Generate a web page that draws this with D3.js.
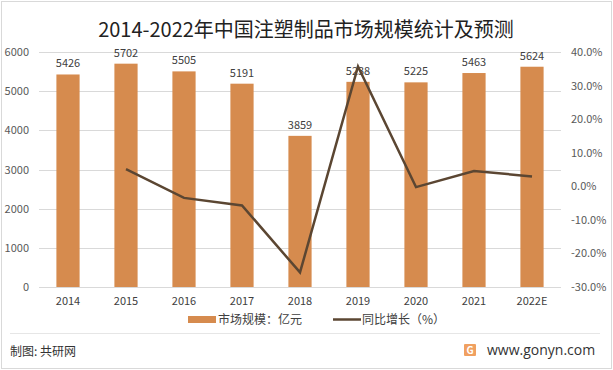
<!DOCTYPE html>
<html><head><meta charset="utf-8">
<script src="https://cdn.jsdelivr.net/npm/d3@7/dist/d3.min.js"></script>
<style>body{margin:0;background:#fff}svg{display:block;font-family:"Noto Sans CJK SC","Noto Sans",sans-serif}</style>
</head><body><svg id="c" width="613" height="370"></svg>
<script>
const categories=["2014","2015","2016","2017","2018","2019","2020","2021","2022E"];
const marketSize=[5426,5702,5505,5191,3859,5238,5225,5463,5624];
const growth=[null,5.1,-3.45,-5.7,-25.66,35.7,-0.25,4.56,2.95];
const leftTicks=[0,1000,2000,3000,4000,5000,6000];
const rightTicks=[-30,-20,-10,0,10,20,30,40];

const svg=d3.select("#c");
svg.append("rect").attr("x",1.5).attr("y",1.5).attr("width",610).attr("height",367).attr("fill","#fff").attr("stroke","#d9d9d9");
const L=39,R=561,T=52,B=287;
const x=d3.scaleBand().domain(categories).range([L,R]).paddingInner(0.6).paddingOuter(0.3);
const yL=d3.scaleLinear().domain([0,6000]).range([B,T]);
const yR=d3.scaleLinear().domain([-30,40]).range([B,T]);

svg.append("text").attr("x",306).attr("y",37).attr("text-anchor","middle").attr("font-size",20).attr("fill","#222").text("2014-2022年中国注塑制品市场规模统计及预测");

const grid=svg.append("g");
leftTicks.forEach(t=>grid.append("line").attr("x1",L).attr("x2",R).attr("y1",Math.round(yL(t))+.5).attr("y2",Math.round(yL(t))+.5).attr("stroke","#d9d9d9"));

const axL=svg.append("g").attr("transform",`translate(${L-10},0)`).call(d3.axisLeft(yL).tickValues(leftTicks).tickSize(0).tickPadding(0).tickFormat(d3.format("d")));
axL.select(".domain").remove();
axL.selectAll("text").attr("font-size",11).attr("fill","#595959").attr("font-family","Noto Sans CJK SC");
const axR=svg.append("g").attr("transform",`translate(${R+10},0)`).call(d3.axisRight(yR).tickValues(rightTicks).tickSize(0).tickPadding(0).tickFormat(d=>d.toFixed(1)+"%"));
axR.select(".domain").remove();
axR.selectAll("text").attr("font-size",11).attr("fill","#595959").attr("font-family","Noto Sans CJK SC");
const axB=svg.append("g").attr("transform",`translate(0,${B})`).call(d3.axisBottom(x).tickSize(0).tickPadding(10));
axB.select(".domain").remove();
axB.selectAll("text").attr("font-size",11).attr("fill","#404040").attr("font-family","Noto Sans CJK SC");

svg.append("g").selectAll("rect").data(categories).join("rect")
 .attr("x",d=>x(d)).attr("width",x.bandwidth()).attr("y",(d,i)=>yL(marketSize[i])).attr("height",(d,i)=>B-yL(marketSize[i])).attr("fill","#D68B4E");
svg.append("g").selectAll("text").data(categories).join("text")
 .attr("x",d=>x(d)+x.bandwidth()/2).attr("y",(d,i)=>yL(marketSize[i])-7).attr("text-anchor","middle").attr("font-size",11).attr("fill","#404040").text((d,i)=>marketSize[i]);

const pts=categories.map((c,i)=>({c,v:growth[i]})).filter(p=>p.v!==null);
svg.append("path").datum(pts).attr("fill","none").attr("stroke","#5B4632").attr("stroke-width",2.5)
 .attr("d",d3.line().x(p=>x(p.c)+x.bandwidth()/2).y(p=>yR(p.v)));

const lg=svg.append("g");
lg.append("rect").attr("x",188).attr("y",316).attr("width",28).attr("height",7).attr("fill","#D68B4E");
lg.append("text").attr("x",218).attr("y",324).attr("font-size",12).attr("fill","#404040").text("市场规模：亿元");
lg.append("line").attr("x1",333).attr("x2",361).attr("y1",319.5).attr("y2",319.5).attr("stroke","#5B4632").attr("stroke-width",2.5);
lg.append("text").attr("x",362).attr("y",324).attr("font-size",12).attr("fill","#404040").text("同比增长（%）");

svg.append("line").attr("x1",10).attr("x2",600).attr("y1",333.5).attr("y2",333.5).attr("stroke","#e6e6e6");
svg.append("text").attr("x",10).attr("y",356).attr("font-size",12).attr("fill","#333").text("制图: 共研网");
svg.append("rect").attr("x",464).attr("y",344).attr("width",12).attr("height",12).attr("fill","#F0A060").attr("rx",1);
svg.append("text").attr("x",470).attr("y",354).attr("text-anchor","middle").attr("font-size",10).attr("font-weight","bold").attr("fill","#fff").text("G");
svg.append("text").attr("x",487).attr("y",355).attr("font-size",14).attr("fill","#333").attr("font-family","Open Sans, sans-serif").text("www.gonyn.com");
</script></body></html>
